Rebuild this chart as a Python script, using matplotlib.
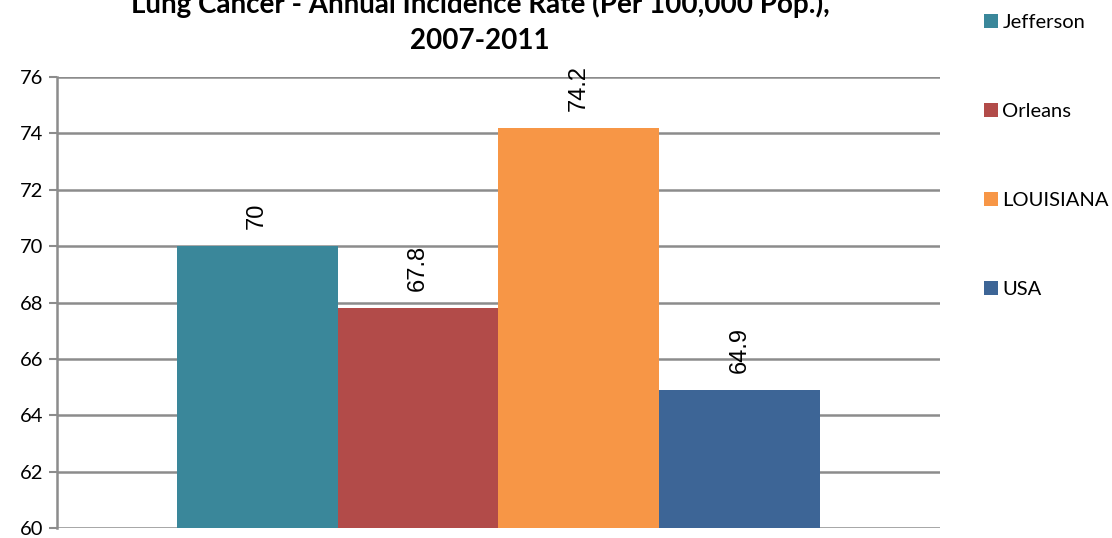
import matplotlib
matplotlib.use("Agg")
import matplotlib.pyplot as plt
import numpy as np

# data
regions = ["Jefferson", "Orleans", "LOUISIANA", "USA"]
rates = [70, 67.8, 74.2, 64.9]
colors = ["#3A879A", "#B24B49", "#F79646", "#3D6596"]
yticks = [60, 62, 64, 66, 68, 70, 72, 74, 76]

fig = plt.figure(figsize=(11.12, 5.38), dpi=100)
ax = fig.add_axes([57 / 1112, 10 / 538, 883 / 1112, 451 / 538])

w = 0.1823
offsets = (np.arange(len(regions)) - 1.5) * w
bars = ax.bar(0.5 + offsets, np.array(rates) - 60, width=w, bottom=60,
              color=colors, label=regions, zorder=3)

for x, v in zip(0.5 + offsets, rates):
    ax.annotate("{:g}".format(v), (x, v), xytext=(0, 12), textcoords="offset points",
                rotation=90, ha="center", va="bottom", fontsize=17,
                family="Liberation Sans", color="black")

ax.set_xlim(0, 1)
ax.set_ylim(60, 76)
ax.set_yticks(yticks)
ax.set_xticks([])
ax.yaxis.grid(True, color="#8C8C8C", linewidth=1.8, zorder=0)
for s in ["top", "right", "bottom"]:
    ax.spines[s].set_visible(False)
ax.spines["left"].set_color("#8C8C8C")
ax.spines["left"].set_linewidth(1.8)
ax.tick_params(axis="y", length=6, width=1.5, color="#8C8C8C", labelsize=14.5, pad=4)
for t in ax.get_yticklabels():
    t.set_family("Lato")

fig.text(480 / 1112, 1 - 22 / 538,
         "Lung Cancer - Annual Incidence Rate (Per 100,000 Pop.),\n2007-2011",
         ha="center", va="center", fontsize=20, fontweight="bold",
         family="Lato", linespacing=1.45)

leg = fig.legend(bars, regions, loc="upper left", bbox_to_anchor=(966 / 1112, 1 + 4 / 538),
                 frameon=False, prop={"family": "Lato", "size": 14.5},
                 handlelength=0.7, handleheight=0.7, handletextpad=0.2,
                 labelspacing=3.57)

fig.savefig("out.png", dpi=100)
